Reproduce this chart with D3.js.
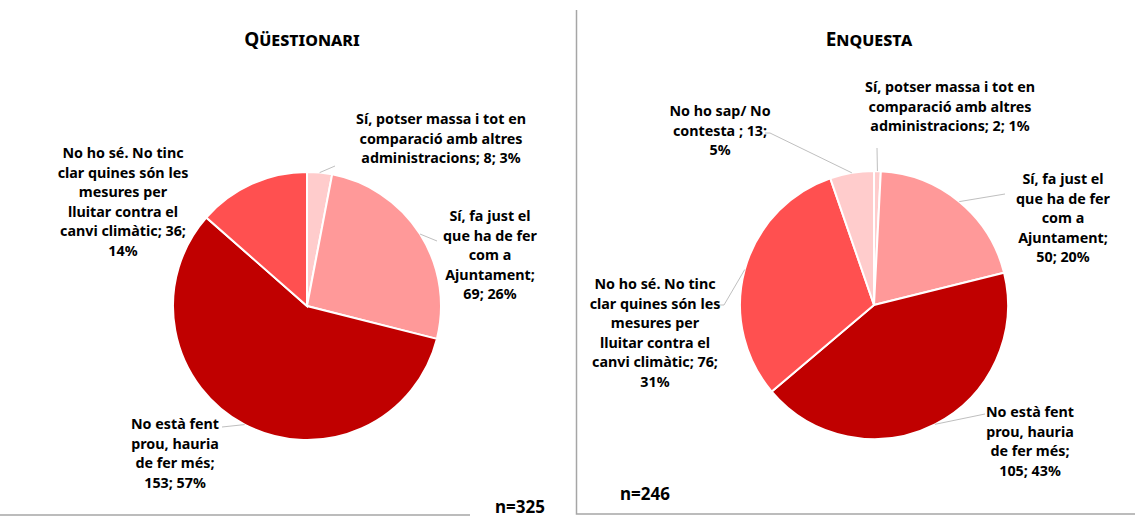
<!DOCTYPE html>
<html>
<head>
<meta charset="utf-8">
<script src="https://cdn.jsdelivr.net/npm/d3@7"></script>
<style>
  body { margin: 0; background: #fff; }
  text { font-family: "Noto Sans", "Open Sans", sans-serif; font-weight: bold; fill: #000; }
</style>
</head>
<body>
<div class="chart"></div>
<script>
var w = 1135,
    h = 519;

// data
var categories = ['sipotser', 'sifajust', 'noesta', 'nohose', 'nohosap'];
var colors = ['#FFCCCC', '#FF9999', '#C00000', '#FF5050', '#FFCCCC'];

var titles = ['Qüestionari', 'Enquesta'];
var counts = ['n=325', 'n=246'];

var quesValues = [8, 69, 153, 36];
var quesPct = [3, 26, 57, 14];
var enqValues = [2, 50, 105, 76, 13];
var enqPct = [1, 20, 43, 31, 5];

var quesLabels = [
  ['Sí, potser massa i tot en', 'comparació amb altres', 'administracions; 8; 3%'],
  ['Sí, fa just el', 'que ha de fer', 'com a', 'Ajuntament;', '69; 26%'],
  ['No està fent', 'prou, hauria', 'de fer més;', '153; 57%'],
  ['No ho sé. No tinc', 'clar quines són les', 'mesures per', 'lluitar contra el', 'canvi climàtic; 36;', '14%']
];
var enqLabels = [
  ['Sí, potser massa i tot en', 'comparació amb altres', 'administracions; 2; 1%'],
  ['Sí, fa just el', 'que ha de fer', 'com a', 'Ajuntament;', '50; 20%'],
  ['No està fent', 'prou, hauria', 'de fer més;', '105; 43%'],
  ['No ho sé. No tinc', 'clar quines són les', 'mesures per', 'lluitar contra el', 'canvi climàtic; 76;', '31%'],
  ['No ho sap/ No', 'contesta ; 13;', '5%']
];

// layout: label centre x, first baseline y, leader end (null = none)
var quesLayout = [
  {x: 441, y: 124, lead: [335, 166]},
  {x: 490, y: 221, lead: [437, 241]},
  {x: 175, y: 429, lead: [222, 427]},
  {x: 123, y: 158, lead: null}
];
var enqLayout = [
  {x: 950, y: 92, lead: [877, 148]},
  {x: 1063, y: 184, lead: [1005, 194]},
  {x: 1030, y: 417, lead: [985, 414]},
  {x: 655, y: 289, lead: [724, 305], tail: 718},
  {x: 720, y: 116, lead: [770, 133], tail: 765}
];

var svg = d3.select('.chart').append('svg').attr('width', w).attr('height', h);

var radius = 134;
var lineH = 19.6;

var drawPie = function (cx, cy, values, pct, labels, layout) {
  var pie = d3.pie().sort(null).value(function (d) { return d; });
  var arcs = pie(values);
  var arc = d3.arc().innerRadius(0).outerRadius(radius);

  var g = svg.append('g').attr('transform', 'translate(' + cx + ',' + cy + ')');

  g.selectAll('.slice')
    .data(arcs)
    .enter().append('path')
    .attr('class', 'slice')
    .attr('d', arc)
    .attr('fill', function (d, i) { return colors[i]; })
    .attr('stroke', '#fff')
    .attr('stroke-width', 2);

  // leader lines
  arcs.forEach(function (d, i) {
    var l = layout[i];
    if (!l.lead) return;
    var a = (d.startAngle + d.endAngle) / 2;
    var sx = cx + radius * Math.sin(a),
        sy = cy - radius * Math.cos(a);
    var pts = [[sx, sy], l.lead];
    if (l.tail) pts.push([l.tail, l.lead[1]]);
    svg.append('path')
      .attr('d', d3.line()(pts))
      .attr('fill', 'none')
      .attr('stroke', '#BFBFBF')
      .attr('stroke-width', 1);
  });

  labels.forEach(function (lines, i) {
    var l = layout[i];
    var t = svg.append('text')
      .attr('text-anchor', 'middle')
      .attr('font-size', 14.3);
    lines.forEach(function (s, j) {
      t.append('tspan').attr('x', l.x).attr('y', l.y + j * lineH).text(s);
    });
  });
}

drawPie(307, 306, quesValues, quesPct, quesLabels, quesLayout);
drawPie(874, 305, enqValues, enqPct, enqLabels, enqLayout);

// titles
svg.append('text').attr('x', 302).attr('y', 46).attr('text-anchor', 'middle')
  .attr('font-size', 19).style('font-variant', 'small-caps').text(titles[0]);
svg.append('text').attr('x', 869).attr('y', 46).attr('text-anchor', 'middle')
  .attr('font-size', 19).style('font-variant', 'small-caps').text(titles[1]);

// frame lines
var frame = [
  [[576.5, 10], [576.5, 514], [1135, 514]],
  [[0, 515], [470, 515]]
];
frame.forEach(function (p) {
  svg.append('path').attr('d', d3.line()(p))
    .attr('fill', 'none').attr('stroke', '#A6A6A6').attr('stroke-width', 1.5);
});

svg.append('text').attr('x', 520).attr('y', 513).attr('text-anchor', 'middle')
  .attr('font-size', 17).text(counts[0]);
svg.append('text').attr('x', 645).attr('y', 500).attr('text-anchor', 'middle')
  .attr('font-size', 17).text(counts[1]);
</script>
</body>
</html>
